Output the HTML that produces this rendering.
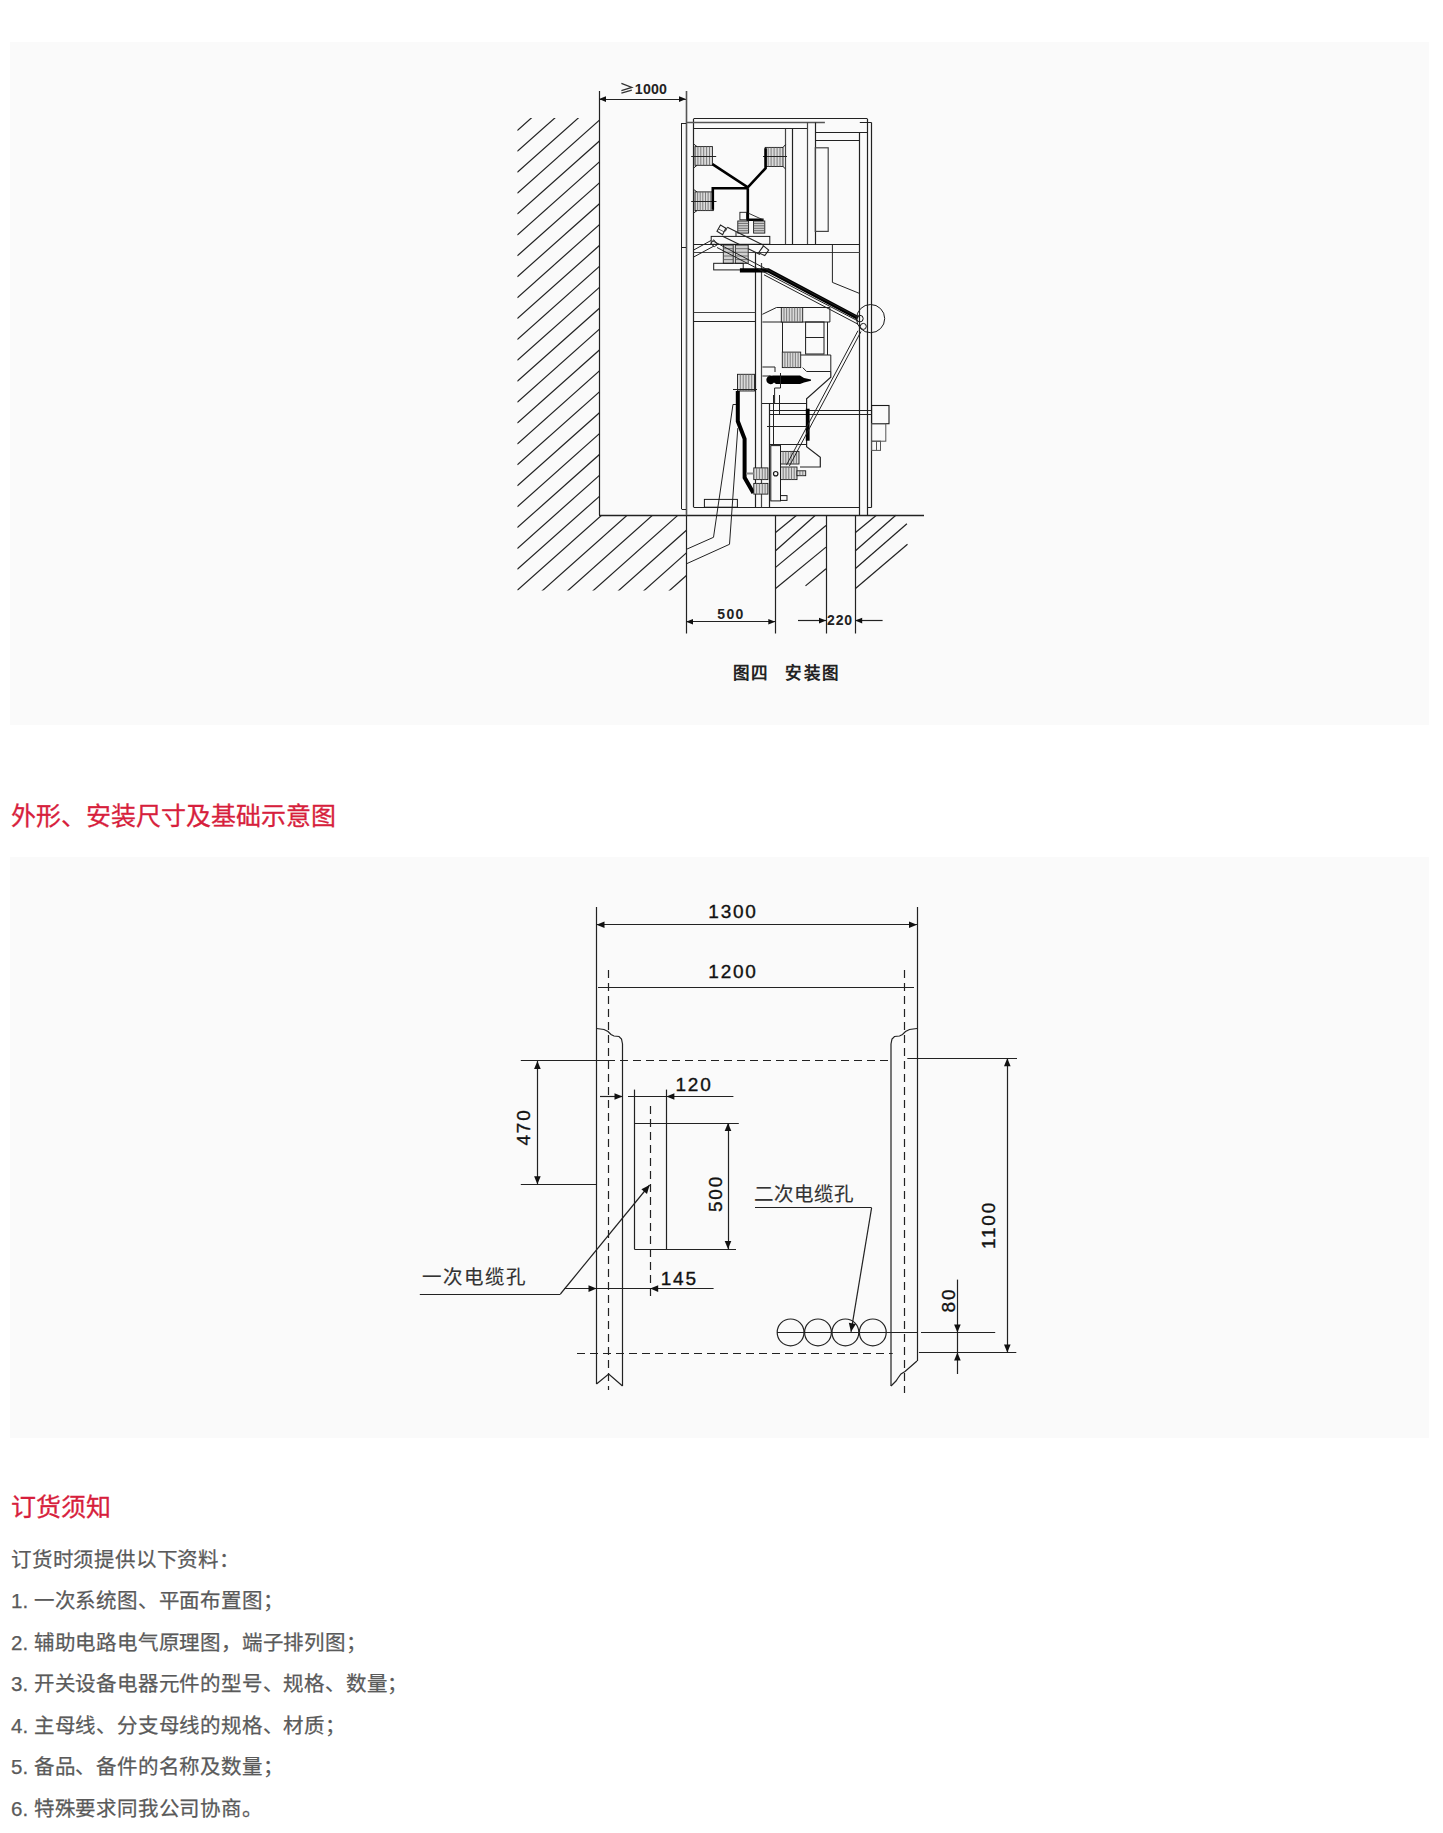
<!DOCTYPE html>
<html lang="zh-CN"><head><meta charset="utf-8">
<style>
html,body{margin:0;padding:0;background:#fff;}
body{width:1443px;height:1833px;position:relative;overflow:hidden;font-family:"Liberation Sans",sans-serif;}
.panel{position:absolute;left:10px;width:1419px;background:#fafafa;}
#p1{top:42px;height:683px;}
#p2{top:857px;height:581px;}
.h{position:absolute;left:11px;font-size:25px;color:#d71f3d;-webkit-text-stroke:0.3px #d71f3d;line-height:30px;white-space:nowrap;}
.t{position:absolute;left:11px;font-size:20.5px;letter-spacing:0.8px;color:#5a5a5a;-webkit-text-stroke:0.25px #5a5a5a;line-height:26px;white-space:nowrap;}
svg{position:absolute;left:0;top:0;}
</style></head><body>
<div class="panel" id="p1"></div>
<div class="panel" id="p2"></div>
<svg width="1443" height="1833" viewBox="0 0 1443 1833">
<defs><clipPath id="cw"><path d="M517.3,118 L599,118 L599,515.3 L686,515.3 L686,590.5 L517.3,590.5 Z"/></clipPath><clipPath id="cp1"><path d="M775.3,515.3 L826,515.3 L826,600 L775.3,600 Z"/></clipPath></defs>
<g clip-path="url(#cw)" stroke="#222" stroke-width="1.2"><line x1="517.3" y1="130.5" x2="1017.3" y2="-314.5"/><line x1="517.3" y1="151.4" x2="1017.3" y2="-293.6"/><line x1="517.3" y1="172.3" x2="1017.3" y2="-272.7"/><line x1="517.3" y1="193.2" x2="1017.3" y2="-251.8"/><line x1="517.3" y1="214.1" x2="1017.3" y2="-230.9"/><line x1="517.3" y1="235.0" x2="1017.3" y2="-210.0"/><line x1="517.3" y1="255.9" x2="1017.3" y2="-189.1"/><line x1="517.3" y1="276.8" x2="1017.3" y2="-168.2"/><line x1="517.3" y1="297.7" x2="1017.3" y2="-147.3"/><line x1="517.3" y1="318.6" x2="1017.3" y2="-126.4"/><line x1="517.3" y1="339.5" x2="1017.3" y2="-105.5"/><line x1="517.3" y1="360.4" x2="1017.3" y2="-84.6"/><line x1="517.3" y1="381.3" x2="1017.3" y2="-63.7"/><line x1="517.3" y1="402.2" x2="1017.3" y2="-42.8"/><line x1="517.3" y1="423.1" x2="1017.3" y2="-21.9"/><line x1="517.3" y1="444.0" x2="1017.3" y2="-1.0"/><line x1="517.3" y1="464.9" x2="1017.3" y2="19.9"/><line x1="517.3" y1="485.8" x2="1017.3" y2="40.8"/><line x1="517.3" y1="506.7" x2="1017.3" y2="61.7"/><line x1="517.3" y1="527.6" x2="1017.3" y2="82.6"/><line x1="517.3" y1="548.5" x2="1017.3" y2="103.5"/><line x1="517.3" y1="569.4" x2="1017.3" y2="124.4"/><line x1="517.3" y1="590.3" x2="1017.3" y2="145.3"/><line x1="517.3" y1="613.0" x2="1017.3" y2="168.0"/><line x1="517.3" y1="635.6" x2="1017.3" y2="190.6"/><line x1="517.3" y1="658.2" x2="1017.3" y2="213.2"/><line x1="517.3" y1="680.8" x2="1017.3" y2="235.8"/><line x1="517.3" y1="703.4" x2="1017.3" y2="258.4"/><line x1="517.3" y1="726.0" x2="1017.3" y2="281.0"/></g>
<line x1="775.3" y1="532.7" x2="796.6" y2="515.3" stroke="#222" stroke-width="1.2"/>
<line x1="775.3" y1="551.0" x2="815.4" y2="515.3" stroke="#222" stroke-width="1.2"/>
<line x1="775.3" y1="567.6" x2="826.0" y2="525.5" stroke="#222" stroke-width="1.2"/>
<line x1="775.3" y1="588.7" x2="826.0" y2="547.1" stroke="#222" stroke-width="1.2"/>
<line x1="805.5" y1="585.9" x2="826.0" y2="568.7" stroke="#222" stroke-width="1.2"/>
<line x1="855.2" y1="532.7" x2="876.4" y2="515.3" stroke="#222" stroke-width="1.2"/>
<line x1="855.2" y1="551.0" x2="895.8" y2="515.3" stroke="#222" stroke-width="1.2"/>
<line x1="855.2" y1="568.7" x2="906.9" y2="523.8" stroke="#222" stroke-width="1.2"/>
<line x1="855.2" y1="588.7" x2="907.5" y2="544.3" stroke="#222" stroke-width="1.2"/>
<line x1="599.5" y1="91.0" x2="599.5" y2="515.3" stroke="#222" stroke-width="1.2"/>
<line x1="599.0" y1="515.5" x2="924.0" y2="515.5" stroke="#222" stroke-width="1.3"/>
<line x1="686.5" y1="515.3" x2="686.5" y2="633.5" stroke="#222" stroke-width="1.2"/>
<line x1="775.5" y1="515.3" x2="775.5" y2="633.5" stroke="#222" stroke-width="1.2"/>
<line x1="826.5" y1="515.3" x2="826.5" y2="633.5" stroke="#222" stroke-width="1.2"/>
<line x1="855.5" y1="515.3" x2="855.5" y2="633.5" stroke="#222" stroke-width="1.2"/>
<line x1="599.0" y1="99.5" x2="686.0" y2="99.5" stroke="#222" stroke-width="1.2"/>
<path d="M599.0,99.1 L606.0,96.3 L606.0,101.9 Z" fill="#111"/>
<path d="M686.0,99.1 L679.0,101.9 L679.0,96.3 Z" fill="#111"/>
<text x="651" y="93.6" font-family="Liberation Sans" font-size="14.2" letter-spacing="0.2" text-anchor="middle" font-weight="bold" fill="#222" stroke="#222" stroke-width="0">1000</text>
<path d="M621.4,83.3 L631.8,87.4 L621.4,90.6" stroke="#333" stroke-width="1.3" fill="none" stroke-linejoin="miter"/>
<path d="M621.4,93.2 L631.8,90.1" stroke="#333" stroke-width="1.3" fill="none" stroke-linejoin="miter"/>
<line x1="686.0" y1="621.5" x2="775.3" y2="621.5" stroke="#222" stroke-width="1.2"/>
<path d="M686.0,621.7 L693.0,618.9 L693.0,624.5 Z" fill="#111"/>
<path d="M775.3,621.7 L768.3,624.5 L768.3,618.9 Z" fill="#111"/>
<text x="731" y="619" font-family="Liberation Sans" font-size="14" letter-spacing="1.4" text-anchor="middle" font-weight="bold" fill="#222" stroke="#222" stroke-width="0">500</text>
<line x1="798.0" y1="620.5" x2="826.0" y2="620.5" stroke="#222" stroke-width="1.2"/>
<path d="M826.0,620.6 L819.0,623.4 L819.0,617.8 Z" fill="#111"/>
<line x1="882.6" y1="620.5" x2="855.2" y2="620.5" stroke="#222" stroke-width="1.2"/>
<path d="M855.2,620.6 L862.2,617.8 L862.2,623.4 Z" fill="#111"/>
<text x="840" y="625.3" font-family="Liberation Sans" font-size="14" letter-spacing="0.8" text-anchor="middle" font-weight="bold" fill="#222" stroke="#222" stroke-width="0">220</text>
<text x="733" y="678.5" font-family="Liberation Sans" font-size="16.5" letter-spacing="1.0" text-anchor="start" font-weight="bold" fill="#222" stroke="#222" stroke-width="0">图四</text>
<text x="785" y="678.5" font-family="Liberation Sans" font-size="16.5" letter-spacing="1.6" text-anchor="start" font-weight="bold" fill="#222" stroke="#222" stroke-width="0">安装图</text>
<line x1="686.5" y1="91.0" x2="686.5" y2="515.3" stroke="#555" stroke-width="1.6"/>
<line x1="681.5" y1="123.0" x2="681.5" y2="509.0" stroke="#222" stroke-width="1.0"/>
<line x1="681.7" y1="123.5" x2="686.0" y2="123.5" stroke="#222" stroke-width="1.0"/>
<line x1="681.7" y1="509.5" x2="686.0" y2="509.5" stroke="#222" stroke-width="1.0"/>
<line x1="681.7" y1="247.5" x2="686.0" y2="247.5" stroke="#222" stroke-width="1.0"/>
<line x1="693.5" y1="118.7" x2="693.5" y2="507.2" stroke="#222" stroke-width="1.2"/>
<line x1="693.7" y1="118.5" x2="867.3" y2="118.5" stroke="#222" stroke-width="1.2"/>
<line x1="686.0" y1="122.5" x2="824.9" y2="122.5" stroke="#555" stroke-width="1.4"/>
<line x1="859.8" y1="122.5" x2="871.5" y2="122.5" stroke="#222" stroke-width="1.0"/>
<line x1="693.7" y1="128.5" x2="807.4" y2="128.5" stroke="#222" stroke-width="1.2"/>
<line x1="859.5" y1="132.9" x2="859.5" y2="515.3" stroke="#222" stroke-width="1.2"/>
<line x1="867.5" y1="118.7" x2="867.5" y2="515.3" stroke="#222" stroke-width="1.2"/>
<line x1="871.5" y1="122.5" x2="871.5" y2="507.4" stroke="#222" stroke-width="1.2"/>
<line x1="867.3" y1="507.5" x2="871.5" y2="507.5" stroke="#222" stroke-width="1.0"/>
<line x1="693.7" y1="507.5" x2="859.8" y2="507.5" stroke="#222" stroke-width="1.2"/>
<line x1="785.5" y1="128.9" x2="785.5" y2="244.4" stroke="#444" stroke-width="1.2"/>
<line x1="792.5" y1="128.9" x2="792.5" y2="244.4" stroke="#222" stroke-width="1.2"/>
<line x1="807.5" y1="122.5" x2="807.5" y2="244.4" stroke="#444" stroke-width="1.2"/>
<line x1="815.5" y1="122.5" x2="815.5" y2="244.4" stroke="#222" stroke-width="1.2"/>
<line x1="815.3" y1="132.5" x2="867.3" y2="132.5" stroke="#222" stroke-width="1.2"/>
<line x1="815.3" y1="140.5" x2="859.8" y2="140.5" stroke="#222" stroke-width="1.2"/>
<rect x="815.3" y="147.8" width="12.9" height="83.6" stroke="#444" stroke-width="1.2" fill="none"/>
<line x1="693.7" y1="244.5" x2="859.8" y2="244.5" stroke="#222" stroke-width="1.2"/>
<line x1="693.7" y1="252.5" x2="859.8" y2="252.5" stroke="#444" stroke-width="1.2"/>
<path d="M832.4,244.4 L832.4,282.4 L859.7,293.5" stroke="#222" stroke-width="1.0" fill="none" stroke-linejoin="miter"/>
<line x1="755.5" y1="252.8" x2="755.5" y2="507.2" stroke="#222" stroke-width="1.2"/>
<line x1="761.5" y1="263.0" x2="761.5" y2="507.2" stroke="#444" stroke-width="1.2"/>
<line x1="693.7" y1="312.5" x2="755.3" y2="312.5" stroke="#444" stroke-width="1.2"/>
<line x1="693.7" y1="321.5" x2="755.3" y2="321.5" stroke="#222" stroke-width="1.2"/>
<line x1="769.5" y1="403.0" x2="769.5" y2="507.2" stroke="#222" stroke-width="1.2"/>
<rect x="695.0" y="146.6" width="17.4" height="18.7" fill="#dadada" stroke="#1a1a1a" stroke-width="0.9"/>
<line x1="697.9" y1="146.6" x2="697.9" y2="165.3" stroke="#666" stroke-width="0.8"/>
<line x1="700.8" y1="146.6" x2="700.8" y2="165.3" stroke="#666" stroke-width="0.8"/>
<line x1="703.7" y1="146.6" x2="703.7" y2="165.3" stroke="#666" stroke-width="0.8"/>
<line x1="706.6" y1="146.6" x2="706.6" y2="165.3" stroke="#666" stroke-width="0.8"/>
<line x1="709.5" y1="146.6" x2="709.5" y2="165.3" stroke="#666" stroke-width="0.8"/>
<line x1="691.2" y1="156.5" x2="716.2" y2="156.5" stroke="#222" stroke-width="1.0"/>
<path d="M693.7,144.0 L697.0,146.6" stroke="#222" stroke-width="1.0" fill="none" stroke-linejoin="miter"/>
<path d="M693.7,168.0 L697.0,165.3" stroke="#222" stroke-width="1.0" fill="none" stroke-linejoin="miter"/>
<rect x="765.2" y="147.4" width="17.8" height="19.1" fill="#dadada" stroke="#1a1a1a" stroke-width="0.9"/>
<line x1="768.2" y1="147.4" x2="768.2" y2="166.5" stroke="#666" stroke-width="0.8"/>
<line x1="771.1" y1="147.4" x2="771.1" y2="166.5" stroke="#666" stroke-width="0.8"/>
<line x1="774.1" y1="147.4" x2="774.1" y2="166.5" stroke="#666" stroke-width="0.8"/>
<line x1="777.1" y1="147.4" x2="777.1" y2="166.5" stroke="#666" stroke-width="0.8"/>
<line x1="780.0" y1="147.4" x2="780.0" y2="166.5" stroke="#666" stroke-width="0.8"/>
<line x1="763.0" y1="156.5" x2="787.0" y2="156.5" stroke="#222" stroke-width="1.0"/>
<path d="M785.6,144.5 L783.0,147.4" stroke="#222" stroke-width="1.0" fill="none" stroke-linejoin="miter"/>
<path d="M785.6,169.0 L783.0,166.5" stroke="#222" stroke-width="1.0" fill="none" stroke-linejoin="miter"/>
<rect x="695.0" y="191.9" width="18.3" height="18.7" fill="#dadada" stroke="#1a1a1a" stroke-width="0.9"/>
<line x1="697.6" y1="191.9" x2="697.6" y2="210.6" stroke="#666" stroke-width="0.8"/>
<line x1="700.2" y1="191.9" x2="700.2" y2="210.6" stroke="#666" stroke-width="0.8"/>
<line x1="702.8" y1="191.9" x2="702.8" y2="210.6" stroke="#666" stroke-width="0.8"/>
<line x1="705.5" y1="191.9" x2="705.5" y2="210.6" stroke="#666" stroke-width="0.8"/>
<line x1="708.1" y1="191.9" x2="708.1" y2="210.6" stroke="#666" stroke-width="0.8"/>
<line x1="710.7" y1="191.9" x2="710.7" y2="210.6" stroke="#666" stroke-width="0.8"/>
<line x1="691.2" y1="201.5" x2="716.5" y2="201.5" stroke="#222" stroke-width="1.0"/>
<path d="M693.7,189.5 L697.0,191.9" stroke="#222" stroke-width="1.0" fill="none" stroke-linejoin="miter"/>
<path d="M693.7,213.0 L697.0,210.6" stroke="#222" stroke-width="1.0" fill="none" stroke-linejoin="miter"/>
<path d="M712.4,164.1 L747.8,187.3 L765.6,168.2 L765.6,148.3" stroke="#000" stroke-width="2.6" fill="none" stroke-linejoin="miter"/>
<path d="M747.8,188.2 L712.8,188.2 L712.8,209.8" stroke="#000" stroke-width="2.6" fill="none" stroke-linejoin="miter"/>
<path d="M747.8,188.2 L747.8,219.8 L763.6,219.8" stroke="#000" stroke-width="2.6" fill="none" stroke-linejoin="miter"/>
<rect x="737.8" y="221.0" width="10.8" height="12.1" fill="#d0d0d0" stroke="#1a1a1a" stroke-width="0.9"/>
<line x1="737.8" y1="223.4" x2="748.6" y2="223.4" stroke="#555" stroke-width="0.8"/>
<line x1="737.8" y1="225.8" x2="748.6" y2="225.8" stroke="#555" stroke-width="0.8"/>
<line x1="737.8" y1="228.3" x2="748.6" y2="228.3" stroke="#555" stroke-width="0.8"/>
<line x1="737.8" y1="230.7" x2="748.6" y2="230.7" stroke="#555" stroke-width="0.8"/>
<rect x="753.6" y="221.0" width="11.2" height="12.1" fill="#d0d0d0" stroke="#1a1a1a" stroke-width="0.9"/>
<line x1="753.6" y1="223.4" x2="764.8" y2="223.4" stroke="#555" stroke-width="0.8"/>
<line x1="753.6" y1="225.8" x2="764.8" y2="225.8" stroke="#555" stroke-width="0.8"/>
<line x1="753.6" y1="228.3" x2="764.8" y2="228.3" stroke="#555" stroke-width="0.8"/>
<line x1="753.6" y1="230.7" x2="764.8" y2="230.7" stroke="#555" stroke-width="0.8"/>
<rect x="739.9" y="212.3" width="6.6" height="7.5" stroke="#1a1a1a" stroke-width="0.9" fill="none"/>
<path d="M748.0,213.0 L763.0,219.8" stroke="#222" stroke-width="0.9" fill="none" stroke-linejoin="miter"/>
<rect x="711.2" y="236.4" width="58.6" height="7.9" stroke="#1a1a1a" stroke-width="1.0" fill="none"/>
<path d="M717.0,231.3 L720.5,225.1 L725.8,228.2 L722.6,234.8 Z" stroke="#222" stroke-width="1.1" fill="none" stroke-linejoin="miter"/>
<path d="M718.5,229.0 L724.0,231.8" stroke="#222" stroke-width="0.7" fill="none" stroke-linejoin="miter"/>
<path d="M727.4,227.2 L763.5,245.2" stroke="#222" stroke-width="1.1" fill="none" stroke-linejoin="miter"/>
<path d="M722.6,236.2 L760.0,254.6" stroke="#222" stroke-width="1.1" fill="none" stroke-linejoin="miter"/>
<path d="M727.4,227.2 L725.3,231.4" stroke="#222" stroke-width="1.0" fill="none" stroke-linejoin="miter"/>
<path d="M736.0,232.0 L736.0,236.5" stroke="#222" stroke-width="1.0" fill="none" stroke-linejoin="miter"/>
<path d="M763.5,245.9 L768.7,250.0 L764.8,255.6 L758.6,252.8 Z" stroke="#222" stroke-width="1.1" fill="none" stroke-linejoin="miter"/>
<path d="M693.7,250.0 L711.0,240.5" stroke="#222" stroke-width="1.0" fill="none" stroke-linejoin="miter"/>
<path d="M693.7,257.0 L714.0,246.0" stroke="#222" stroke-width="1.0" fill="none" stroke-linejoin="miter"/>
<path d="M710.8,243.8 L713.6,239.7 L717.7,244.5 L714.3,246.6 Z" stroke="#222" stroke-width="1.0" fill="none" stroke-linejoin="miter"/>
<rect x="723.3" y="245.0" width="9.9" height="18.3" fill="#d0d0d0" stroke="#1a1a1a" stroke-width="0.9"/>
<line x1="723.3" y1="248.7" x2="733.2" y2="248.7" stroke="#555" stroke-width="0.8"/>
<line x1="723.3" y1="252.3" x2="733.2" y2="252.3" stroke="#555" stroke-width="0.8"/>
<line x1="723.3" y1="256.0" x2="733.2" y2="256.0" stroke="#555" stroke-width="0.8"/>
<line x1="723.3" y1="259.6" x2="733.2" y2="259.6" stroke="#555" stroke-width="0.8"/>
<rect x="735.3" y="245.0" width="12.9" height="18.3" fill="#d0d0d0" stroke="#1a1a1a" stroke-width="0.9"/>
<line x1="735.3" y1="248.7" x2="748.2" y2="248.7" stroke="#555" stroke-width="0.8"/>
<line x1="735.3" y1="252.3" x2="748.2" y2="252.3" stroke="#555" stroke-width="0.8"/>
<line x1="735.3" y1="256.0" x2="748.2" y2="256.0" stroke="#555" stroke-width="0.8"/>
<line x1="735.3" y1="259.6" x2="748.2" y2="259.6" stroke="#555" stroke-width="0.8"/>
<rect x="713.7" y="263.3" width="29.5" height="6.6" stroke="#1a1a1a" stroke-width="1.0" fill="none"/>
<path d="M739.9,270.3 L768.2,270.3 L858.0,318.0" stroke="#000" stroke-width="4.2" fill="none" stroke-linejoin="miter"/>
<path d="M713.0,241.0 L858.0,317.4" stroke="#222" stroke-width="1.0" fill="none" stroke-linejoin="miter"/>
<path d="M717.0,247.5 L858.0,321.0" stroke="#222" stroke-width="1.0" fill="none" stroke-linejoin="miter"/>
<path d="M764.0,274.8 L858.0,324.2" stroke="#222" stroke-width="1.0" fill="none" stroke-linejoin="miter"/>
<circle cx="870.6" cy="318.6" r="14.1" stroke="#1a1a1a" stroke-width="1.0" fill="none"/>
<circle cx="859.9" cy="318.6" r="3.3" stroke="#1a1a1a" stroke-width="1.0" fill="none"/>
<circle cx="863.3" cy="326.4" r="3.0" stroke="#1a1a1a" stroke-width="1.0" fill="none"/>
<path d="M762.4,314.3 L776.5,307.5 L829.9,307.5 L829.9,322.0 L762.4,322.0" stroke="#222" stroke-width="1.0" fill="none" stroke-linejoin="miter"/>
<rect x="781.3" y="307.5" width="21.4" height="14.5" fill="#dadada" stroke="#1a1a1a" stroke-width="0.9"/>
<line x1="784.0" y1="307.5" x2="784.0" y2="322.0" stroke="#666" stroke-width="0.8"/>
<line x1="786.6" y1="307.5" x2="786.6" y2="322.0" stroke="#666" stroke-width="0.8"/>
<line x1="789.3" y1="307.5" x2="789.3" y2="322.0" stroke="#666" stroke-width="0.8"/>
<line x1="792.0" y1="307.5" x2="792.0" y2="322.0" stroke="#666" stroke-width="0.8"/>
<line x1="794.7" y1="307.5" x2="794.7" y2="322.0" stroke="#666" stroke-width="0.8"/>
<line x1="797.4" y1="307.5" x2="797.4" y2="322.0" stroke="#666" stroke-width="0.8"/>
<line x1="800.0" y1="307.5" x2="800.0" y2="322.0" stroke="#666" stroke-width="0.8"/>
<rect x="805.6" y="322.0" width="18.4" height="32.0" stroke="#1a1a1a" stroke-width="1.0" fill="none"/>
<line x1="805.6" y1="337.5" x2="824.0" y2="337.5" stroke="#222" stroke-width="1.0"/>
<line x1="827.5" y1="322.0" x2="827.5" y2="355.0" stroke="#222" stroke-width="1.0"/>
<line x1="782.5" y1="322.0" x2="782.5" y2="352.0" stroke="#222" stroke-width="1.0"/>
<rect x="782.3" y="352.1" width="18.4" height="15.5" fill="#dadada" stroke="#1a1a1a" stroke-width="0.9"/>
<line x1="784.9" y1="352.1" x2="784.9" y2="367.6" stroke="#666" stroke-width="0.8"/>
<line x1="787.6" y1="352.1" x2="787.6" y2="367.6" stroke="#666" stroke-width="0.8"/>
<line x1="790.2" y1="352.1" x2="790.2" y2="367.6" stroke="#666" stroke-width="0.8"/>
<line x1="792.8" y1="352.1" x2="792.8" y2="367.6" stroke="#666" stroke-width="0.8"/>
<line x1="795.4" y1="352.1" x2="795.4" y2="367.6" stroke="#666" stroke-width="0.8"/>
<line x1="798.1" y1="352.1" x2="798.1" y2="367.6" stroke="#666" stroke-width="0.8"/>
<path d="M800.7,355.0 L830.8,355.0 L830.8,371.5 L806.6,371.5 L802.7,367.6" stroke="#222" stroke-width="1.0" fill="none" stroke-linejoin="miter"/>
<path d="M830.8,371.5 L830.8,377.3 L806.6,398.7 L806.6,446.6 L820.3,457.2 L820.3,467.0 L800.0,467.0" stroke="#222" stroke-width="1.2" fill="none" stroke-linejoin="miter"/>
<path d="M772,375.6 L800,375.6 L804,378 L811,379.5 L811,380.8 L804,382.5 L800,384.1 L776,384.1 L774,382.5 A4.3,4.3 0 1 1 774,377.2 Z" fill="#000"/>
<path d="M762.4,367.0 L775.0,367.0 L775.0,372.0" stroke="#222" stroke-width="1.0" fill="none" stroke-linejoin="miter"/>
<path d="M762.4,376.0 L770.0,376.0" stroke="#222" stroke-width="1.0" fill="none" stroke-linejoin="miter"/>
<path d="M780.5,373.0 L780.5,388.0 L774.6,388.0 L774.6,403.0" stroke="#222" stroke-width="1.0" fill="none" stroke-linejoin="miter"/>
<line x1="762.0" y1="403.5" x2="806.6" y2="403.5" stroke="#222" stroke-width="1.0"/>
<line x1="769.7" y1="410.5" x2="871.6" y2="410.5" stroke="#222" stroke-width="1.0"/>
<line x1="769.7" y1="414.5" x2="871.6" y2="414.5" stroke="#222" stroke-width="1.0"/>
<line x1="767.0" y1="426.5" x2="806.6" y2="426.5" stroke="#222" stroke-width="1.0"/>
<line x1="769.9" y1="444.5" x2="806.6" y2="444.5" stroke="#222" stroke-width="1.0"/>
<line x1="773.5" y1="395.0" x2="773.5" y2="444.1" stroke="#222" stroke-width="1.0"/>
<line x1="779.5" y1="395.0" x2="779.5" y2="414.2" stroke="#222" stroke-width="1.0"/>
<rect x="871.6" y="405.5" width="17.4" height="18.2" stroke="#1a1a1a" stroke-width="1.1" fill="none"/>
<rect x="871.6" y="423.7" width="14.2" height="17.5" stroke="#555" stroke-width="1.0" fill="none"/>
<rect x="871.6" y="441.2" width="8.9" height="9.2" stroke="#555" stroke-width="1.0" fill="none"/>
<line x1="876.5" y1="441.2" x2="876.5" y2="450.4" stroke="#555" stroke-width="1.0"/>
<rect x="805.8" y="408.7" width="3.8" height="32" fill="#000"/>
<rect x="737.5" y="374.3" width="17.0" height="16.7" fill="#dadada" stroke="#1a1a1a" stroke-width="0.9"/>
<line x1="740.3" y1="374.3" x2="740.3" y2="391.0" stroke="#666" stroke-width="0.8"/>
<line x1="743.2" y1="374.3" x2="743.2" y2="391.0" stroke="#666" stroke-width="0.8"/>
<line x1="746.0" y1="374.3" x2="746.0" y2="391.0" stroke="#666" stroke-width="0.8"/>
<line x1="748.8" y1="374.3" x2="748.8" y2="391.0" stroke="#666" stroke-width="0.8"/>
<line x1="751.7" y1="374.3" x2="751.7" y2="391.0" stroke="#666" stroke-width="0.8"/>
<line x1="733.0" y1="389.5" x2="757.0" y2="389.5" stroke="#222" stroke-width="1.0"/>
<path d="M737.8,391.0 L737.8,421.3 L744.6,438.8 L744.6,477.6 L753.4,493.1" stroke="#000" stroke-width="4.0" fill="none" stroke-linejoin="miter"/>
<path d="M733.0,404.4 L713.5,537.3 L686.0,549.5" stroke="#222" stroke-width="1.0" fill="none" stroke-linejoin="miter"/>
<line x1="733.0" y1="404.5" x2="736.0" y2="404.5" stroke="#222" stroke-width="1.0"/>
<path d="M737.8,428.1 L729.5,544.3 L686.0,564.0" stroke="#222" stroke-width="1.0" fill="none" stroke-linejoin="miter"/>
<rect x="704.4" y="499.4" width="33.0" height="7.8" stroke="#1a1a1a" stroke-width="1.0" fill="none"/>
<rect x="753.8" y="467.9" width="14.1" height="11.7" fill="#dadada" stroke="#1a1a1a" stroke-width="0.9"/>
<line x1="756.6" y1="467.9" x2="756.6" y2="479.6" stroke="#666" stroke-width="0.8"/>
<line x1="759.4" y1="467.9" x2="759.4" y2="479.6" stroke="#666" stroke-width="0.8"/>
<line x1="762.3" y1="467.9" x2="762.3" y2="479.6" stroke="#666" stroke-width="0.8"/>
<line x1="765.1" y1="467.9" x2="765.1" y2="479.6" stroke="#666" stroke-width="0.8"/>
<rect x="753.8" y="483.4" width="14.1" height="10.7" fill="#dadada" stroke="#1a1a1a" stroke-width="0.9"/>
<line x1="756.6" y1="483.4" x2="756.6" y2="494.1" stroke="#666" stroke-width="0.8"/>
<line x1="759.4" y1="483.4" x2="759.4" y2="494.1" stroke="#666" stroke-width="0.8"/>
<line x1="762.3" y1="483.4" x2="762.3" y2="494.1" stroke="#666" stroke-width="0.8"/>
<line x1="765.1" y1="483.4" x2="765.1" y2="494.1" stroke="#666" stroke-width="0.8"/>
<line x1="746.0" y1="473.5" x2="753.8" y2="473.5" stroke="#888" stroke-width="2.0"/>
<rect x="780.5" y="467.0" width="16.5" height="12.6" fill="#dadada" stroke="#1a1a1a" stroke-width="0.9"/>
<line x1="783.2" y1="467.0" x2="783.2" y2="479.6" stroke="#666" stroke-width="0.8"/>
<line x1="786.0" y1="467.0" x2="786.0" y2="479.6" stroke="#666" stroke-width="0.8"/>
<line x1="788.8" y1="467.0" x2="788.8" y2="479.6" stroke="#666" stroke-width="0.8"/>
<line x1="791.5" y1="467.0" x2="791.5" y2="479.6" stroke="#666" stroke-width="0.8"/>
<line x1="794.2" y1="467.0" x2="794.2" y2="479.6" stroke="#666" stroke-width="0.8"/>
<rect x="797.0" y="470.8" width="8.7" height="4.9" fill="#dadada" stroke="#1a1a1a" stroke-width="0.9"/>
<line x1="799.9" y1="470.8" x2="799.9" y2="475.7" stroke="#666" stroke-width="0.8"/>
<line x1="802.8" y1="470.8" x2="802.8" y2="475.7" stroke="#666" stroke-width="0.8"/>
<rect x="780.5" y="451.4" width="18.5" height="12.6" fill="#dadada" stroke="#1a1a1a" stroke-width="0.9"/>
<line x1="783.1" y1="451.4" x2="783.1" y2="464.0" stroke="#666" stroke-width="0.8"/>
<line x1="785.8" y1="451.4" x2="785.8" y2="464.0" stroke="#666" stroke-width="0.8"/>
<line x1="788.4" y1="451.4" x2="788.4" y2="464.0" stroke="#666" stroke-width="0.8"/>
<line x1="791.1" y1="451.4" x2="791.1" y2="464.0" stroke="#666" stroke-width="0.8"/>
<line x1="793.7" y1="451.4" x2="793.7" y2="464.0" stroke="#666" stroke-width="0.8"/>
<line x1="796.4" y1="451.4" x2="796.4" y2="464.0" stroke="#666" stroke-width="0.8"/>
<rect x="770.8" y="445.6" width="9.7" height="55.3" stroke="#1a1a1a" stroke-width="1.0" fill="none"/>
<rect x="780.5" y="495.6" width="6.5" height="4.8" stroke="#1a1a1a" stroke-width="1.0" fill="none"/>
<circle cx="775.7" cy="473.7" r="2.2" stroke="#1a1a1a" stroke-width="1.2" fill="none"/>
<path d="M858.0,330.7 L786.4,465.2" stroke="#222" stroke-width="1.0" fill="none" stroke-linejoin="miter"/>
<path d="M861.0,331.5 L789.4,466.0" stroke="#222" stroke-width="1.0" fill="none" stroke-linejoin="miter"/>
<line x1="596.5" y1="907.0" x2="596.5" y2="1384.0" stroke="#222" stroke-width="1.2"/>
<path d="M596.5,1028.5 L604.0,1029.5 L608.0,1031.5 L611.0,1034.5 L614.0,1036.0 L619.0,1036.5 L621.5,1039.0 L622.5,1044.0 L622.5,1386.0" stroke="#222" stroke-width="1.2" fill="none" stroke-linejoin="miter"/>
<path d="M596.5,1384.0 L608.7,1374.0 L622.5,1386.0" stroke="#222" stroke-width="1.2" fill="none" stroke-linejoin="miter"/>
<line x1="608.5" y1="970.0" x2="608.5" y2="1390.0" stroke="#222" stroke-width="1.2" stroke-dasharray="8 5"/>
<line x1="917.5" y1="907.0" x2="917.5" y2="1361.0" stroke="#222" stroke-width="1.2"/>
<path d="M917.0,1028.5 L909.5,1029.5 L905.5,1031.5 L902.5,1034.5 L899.5,1036.0 L894.5,1036.5 L892.0,1039.0 L891.0,1044.0 L891.0,1386.0" stroke="#222" stroke-width="1.2" fill="none" stroke-linejoin="miter"/>
<path d="M917.0,1361.0 L905.0,1371.5 L901.0,1374.0 L898.0,1378.0 L896.0,1381.0 L891.0,1386.0" stroke="#222" stroke-width="1.2" fill="none" stroke-linejoin="miter"/>
<line x1="904.5" y1="970.0" x2="904.5" y2="1393.0" stroke="#222" stroke-width="1.2" stroke-dasharray="8 5"/>
<line x1="596.5" y1="924.5" x2="917.0" y2="924.5" stroke="#222" stroke-width="1.2"/>
<path d="M596.5,924.7 L604.5,921.4 L604.5,928.0 Z" fill="#111"/>
<path d="M917.0,924.7 L909.0,928.0 L909.0,921.4 Z" fill="#111"/>
<text x="733" y="917.5" font-family="Liberation Sans" font-size="19" letter-spacing="1.8" text-anchor="middle" font-weight="normal" fill="#111" stroke="#111" stroke-width="0.35">1300</text>
<line x1="598.0" y1="987.5" x2="914.0" y2="987.5" stroke="#222" stroke-width="1.2"/>
<text x="733" y="977.5" font-family="Liberation Sans" font-size="19" letter-spacing="1.8" text-anchor="middle" font-weight="normal" fill="#111" stroke="#111" stroke-width="0.35">1200</text>
<line x1="520.8" y1="1060.5" x2="607.0" y2="1060.5" stroke="#222" stroke-width="1.2"/>
<line x1="607.0" y1="1060.5" x2="892.0" y2="1060.5" stroke="#222" stroke-width="1.2" stroke-dasharray="8 5"/>
<line x1="907.3" y1="1058.5" x2="1017.0" y2="1058.5" stroke="#222" stroke-width="1.2"/>
<line x1="537.5" y1="1061.0" x2="537.5" y2="1184.2" stroke="#222" stroke-width="1.2"/>
<path d="M537.4,1061.0 L540.7,1069.0 L534.1,1069.0 Z" fill="#111"/>
<path d="M537.4,1184.2 L534.1,1176.2 L540.7,1176.2 Z" fill="#111"/>
<line x1="520.8" y1="1184.5" x2="596.5" y2="1184.5" stroke="#222" stroke-width="1.2"/>
<text x="529.6" y="1127" font-family="Liberation Sans" font-size="19" letter-spacing="1.8" text-anchor="middle" font-weight="normal" fill="#111" stroke="#111" stroke-width="0.35" transform="rotate(-90 529.6 1127)">470</text>
<line x1="600.0" y1="1096.5" x2="622.5" y2="1096.5" stroke="#222" stroke-width="1.2"/>
<path d="M622.5,1096.5 L614.5,1099.8 L614.5,1093.2 Z" fill="#111"/>
<line x1="634.5" y1="1089.6" x2="634.5" y2="1249.0" stroke="#222" stroke-width="1.2"/>
<line x1="666.5" y1="1089.6" x2="666.5" y2="1249.0" stroke="#222" stroke-width="1.2"/>
<line x1="634.3" y1="1123.5" x2="738.8" y2="1123.5" stroke="#222" stroke-width="1.2"/>
<line x1="634.3" y1="1249.5" x2="736.0" y2="1249.5" stroke="#222" stroke-width="1.2"/>
<line x1="628.0" y1="1096.5" x2="733.4" y2="1096.5" stroke="#222" stroke-width="1.2"/>
<path d="M666.4,1096.5 L674.4,1093.2 L674.4,1099.8 Z" fill="#111"/>
<text x="694" y="1090.5" font-family="Liberation Sans" font-size="19" letter-spacing="1.8" text-anchor="middle" font-weight="normal" fill="#111" stroke="#111" stroke-width="0.35">120</text>
<line x1="650.5" y1="1106.0" x2="650.5" y2="1300.0" stroke="#222" stroke-width="1.2" stroke-dasharray="8 5"/>
<line x1="728.5" y1="1123.0" x2="728.5" y2="1249.0" stroke="#222" stroke-width="1.2"/>
<path d="M728.0,1123.0 L731.3,1131.0 L724.7,1131.0 Z" fill="#111"/>
<path d="M728.0,1249.0 L724.7,1241.0 L731.3,1241.0 Z" fill="#111"/>
<text x="721.5" y="1193.5" font-family="Liberation Sans" font-size="19" letter-spacing="1.8" text-anchor="middle" font-weight="normal" fill="#111" stroke="#111" stroke-width="0.35" transform="rotate(-90 721.5 1193.5)">500</text>
<line x1="419.8" y1="1294.5" x2="560.4" y2="1294.5" stroke="#222" stroke-width="1.2"/>
<line x1="560.4" y1="1294.0" x2="649.6" y2="1185.0" stroke="#222" stroke-width="1.2"/>
<path d="M649.6,1185.0 L647.0,1193.9 L641.4,1189.3 Z" fill="#111"/>
<text x="422" y="1284" font-family="Liberation Sans" font-size="19.5" letter-spacing="0.9" text-anchor="start" font-weight="normal" fill="#333" stroke="#333" stroke-width="0.15">一次电缆孔</text>
<line x1="564.0" y1="1288.5" x2="713.6" y2="1288.5" stroke="#222" stroke-width="1.2"/>
<path d="M596.5,1288.6 L588.5,1291.9 L588.5,1285.3 Z" fill="#111"/>
<path d="M650.2,1288.6 L658.2,1285.3 L658.2,1291.9 Z" fill="#111"/>
<text x="679.3" y="1285" font-family="Liberation Sans" font-size="19" letter-spacing="1.8" text-anchor="middle" font-weight="normal" fill="#111" stroke="#111" stroke-width="0.35">145</text>
<text x="754" y="1201" font-family="Liberation Sans" font-size="19.5" letter-spacing="0" text-anchor="start" font-weight="normal" fill="#333" stroke="#333" stroke-width="0.15">二次电缆孔</text>
<line x1="755.0" y1="1207.5" x2="871.6" y2="1207.5" stroke="#222" stroke-width="1.2"/>
<line x1="871.6" y1="1207.8" x2="851.0" y2="1331.8" stroke="#222" stroke-width="1.2"/>
<path d="M851.0,1331.8 L848.8,1322.8 L855.9,1324.0 Z" fill="#111"/>
<circle cx="790.6" cy="1332.4" r="13.4" stroke="#222" stroke-width="1.2" fill="none"/>
<circle cx="818.0" cy="1332.4" r="13.4" stroke="#222" stroke-width="1.2" fill="none"/>
<circle cx="845.4" cy="1332.4" r="13.4" stroke="#222" stroke-width="1.2" fill="none"/>
<circle cx="872.8" cy="1332.4" r="13.4" stroke="#222" stroke-width="1.2" fill="none"/>
<line x1="777.0" y1="1332.5" x2="917.0" y2="1332.5" stroke="#222" stroke-width="1.2"/>
<line x1="921.0" y1="1332.5" x2="995.2" y2="1332.5" stroke="#222" stroke-width="1.2"/>
<line x1="957.5" y1="1279.6" x2="957.5" y2="1374.0" stroke="#222" stroke-width="1.2"/>
<path d="M957.4,1332.4 L954.1,1324.4 L960.7,1324.4 Z" fill="#111"/>
<path d="M957.4,1352.5 L960.7,1360.5 L954.1,1360.5 Z" fill="#111"/>
<line x1="918.9" y1="1352.5" x2="1016.3" y2="1352.5" stroke="#222" stroke-width="1.2"/>
<line x1="577.0" y1="1353.5" x2="892.7" y2="1353.5" stroke="#222" stroke-width="1.2" stroke-dasharray="8 5"/>
<text x="955" y="1300" font-family="Liberation Sans" font-size="19" letter-spacing="1.8" text-anchor="middle" font-weight="normal" fill="#111" stroke="#111" stroke-width="0.35" transform="rotate(-90 955 1300)">80</text>
<line x1="1007.5" y1="1058.2" x2="1007.5" y2="1352.5" stroke="#222" stroke-width="1.2"/>
<path d="M1007.3,1058.2 L1010.6,1066.2 L1004.0,1066.2 Z" fill="#111"/>
<path d="M1007.3,1352.5 L1004.0,1344.5 L1010.6,1344.5 Z" fill="#111"/>
<text x="995" y="1225" font-family="Liberation Sans" font-size="19" letter-spacing="1.8" text-anchor="middle" font-weight="normal" fill="#111" stroke="#111" stroke-width="0.35" transform="rotate(-90 995 1225)">1100</text>
</svg>
<div class="h" style="top:801px">外形、安装尺寸及基础示意图</div>
<div class="h" style="top:1492px">订货须知</div>
<div class="t" style="top:1547px">订货时须提供以下资料：</div>
<div class="t" style="top:1588px"><span style="letter-spacing:0">1. </span>一次系统图、平面布置图；</div>
<div class="t" style="top:1630px"><span style="letter-spacing:0">2. </span>辅助电路电气原理图，端子排列图；</div>
<div class="t" style="top:1671px"><span style="letter-spacing:0">3. </span>开关设备电器元件的型号、规格、数量；</div>
<div class="t" style="top:1713px"><span style="letter-spacing:0">4. </span>主母线、分支母线的规格、材质；</div>
<div class="t" style="top:1754px"><span style="letter-spacing:0">5. </span>备品、备件的名称及数量；</div>
<div class="t" style="top:1796px"><span style="letter-spacing:0">6. </span>特殊要求同我公司协商。</div>
</body></html>
